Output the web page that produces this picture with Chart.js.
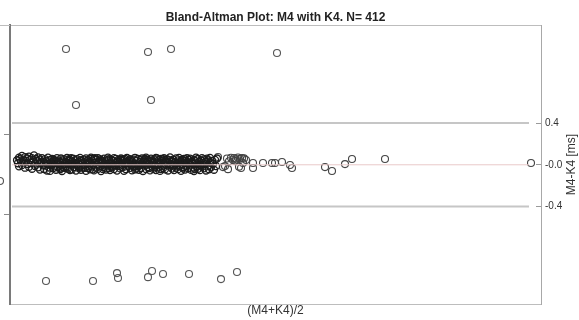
<!DOCTYPE html>
<html>
<head>
<meta charset="utf-8">
<script src="https://cdn.jsdelivr.net/npm/chart.js@4.4.1/dist/chart.umd.min.js"></script>
<style>
  html, body { margin: 0; padding: 0; background: #fff; }
  #wrap { width: 579px; height: 320px; }
</style>
</head>
<body>
<div id="wrap"><canvas id="ba" width="579" height="320"></canvas></div>
<script>
// Bland-Altman: mean of the two methods (x) vs difference (y)
const titleText = 'Bland-Altman Plot: M4 with K4. N= 412';
const xTitle = '(M4+K4)/2';
const yTitle = 'M4-K4 [ms]';

// limits of agreement and mean difference
const meanDiff = -0.003;
const upperLoA = 0.401;
const lowerLoA = -0.407;
const lineStartX = 2;
const lineEndX = 519;

const xRange = [0, 531];
const yRange = [-1.35, 1.35];
const rightTicks = [upperLoA, meanDiff, lowerLoA];
const leftTicks = [0.295, -0.48];

// outliers
const outlierMeans = [56, 138, 161, 267, 66, 141,
  36, 83, 107, 108, 138, 142, 153, 179, 211, 227];
const outlierDiffs = [1.118, 1.089, 1.118, 1.079, 0.576, 0.624,
  -1.128, -1.128, -1.051, -1.099, -1.090, -1.031, -1.060, -1.060, -1.109, -1.041];

// one point sits left of the frame
const edgeMeans = [-10];
const edgeDiffs = [-0.160];

const sparseMeans = [208, 213, 215, 217, 218, 219, 221, 223, 224, 225, 226, 228, 229, 230, 231, 232, 233, 234, 236,
  243, 243, 253, 262, 265, 272, 280, 282, 315, 322, 335, 342, 375, 521];
const sparseDiffs = [0.072, -0.025, -0.015, 0.058, -0.045, 0.031, 0.066, 0.043, 0.062, 0.033, 0.049, 0.068, -0.021, 0.055, -0.034, 0.062, 0.014, 0.059, 0.044,
  0.014, -0.034, 0.014, 0.014, 0.014, 0.024, -0.005, -0.034, -0.025, -0.063, 0.004, 0.053, 0.053, 0.014];

// the dense band
const bandMeans = [
  7,8,9,9,10,11,12,12,13,14,15,15,16,17,18,19,19,20,21,22,22,23,24,25,25,26,27,28,28,29,30,30,31,32,33,
  34,34,35,36,36,37,38,38,39,40,40,41,42,42,43,44,44,45,46,46,
  47,48,48,49,50,50,51,52,52,53,54,54,55,56,56,57,58,58,59,60,
  60,61,62,62,63,64,64,65,66,66,67,68,68,69,70,70,71,72,72,73,
  74,74,75,76,76,77,78,78,79,80,80,81,82,82,83,84,84,85,86,86,
  87,88,88,89,90,90,91,92,92,93,94,94,95,96,96,97,98,98,99,100,
  100,101,102,102,103,104,104,105,106,106,107,108,108,109,110,110,111,112,112,113,
  114,114,115,116,116,117,118,118,119,120,120,121,122,122,123,124,124,125,126,126,
  127,128,128,129,130,130,131,132,132,133,134,134,135,136,136,137,138,138,139,140,
  140,141,142,142,143,144,144,145,146,146,147,148,148,149,150,150,151,152,152,153,
  154,154,155,156,156,157,158,158,159,160,160,161,162,162,163,164,164,165,166,166,
  167,168,168,169,170,170,171,172,172,173,174,174,175,176,176,177,178,178,179,180,
  180,181,182,182,183,184,184,185,186,186,187,188,188,189,190,190,191,192,192,193,
  194,194,195,196,196,197,198,198,199,200,200,201,202,203,204,205,206,207,
  41,49,57,63,71,79,85,93,99,107,113,121,129,135,143,151,157,165,171,179,
  45,53,59,67,75,81,89,97,103,111,117,125,133,139,147,155,161,169,175,185,
  37,43,51,61,69,77,83,91,101,109,115,123,131,137,145,153,163,173,183,191
];
const bandDiffs = [
  0.041,0.012,0.066,-0.018,0.052,0.028,0.083,-0.006,0.047,0.019,0.071,-0.031,0.036,0.058,0.004,0.077,-0.022,0.044,0.015,0.062,-0.041,0.029,0.088,0.008,-0.014,0.053,0.034,0.069,-0.027,0.011,0.047,-0.049,0.024,0.061,-0.008,
  0.018,-0.044,0.052,-0.011,0.033,-0.058,0.067,0.004,-0.029,0.041,-0.062,0.022,-0.006,0.055,-0.037,0.013,0.046,-0.019,0.029,-0.051,
  0.061,-0.024,0.009,0.038,-0.046,0.017,0.058,-0.008,-0.063,0.031,0.002,0.049,-0.033,0.024,-0.015,0.063,-0.041,0.012,0.036,-0.055,
  0.044,-0.003,0.027,-0.048,0.057,0.014,-0.026,0.039,-0.059,0.006,0.051,-0.017,0.023,-0.038,0.064,0.001,-0.052,0.034,0.016,-0.029,
  0.048,-0.009,0.021,-0.061,0.059,0.007,-0.035,0.042,0.026,-0.047,0.011,0.066,-0.021,0.037,-0.004,0.053,-0.057,0.019,-0.031,0.045,
  0.003,0.061,-0.042,0.028,-0.013,0.049,-0.064,0.015,0.038,-0.024,0.056,-0.002,0.032,-0.049,0.009,0.043,-0.018,0.067,-0.036,0.022,
  -0.054,0.047,0.005,-0.028,0.036,0.062,-0.044,0.013,-0.007,0.054,-0.059,0.026,0.041,-0.016,0.008,-0.038,0.058,0.019,-0.025,0.035,
  -0.061,0.044,0.002,0.027,-0.046,0.063,-0.012,0.016,0.039,-0.033,0.051,-0.005,-0.056,0.031,0.011,-0.022,0.048,0.065,-0.039,0.006,
  0.037,-0.017,0.054,-0.051,0.024,0.001,-0.034,0.059,0.014,-0.063,0.042,-0.009,0.029,0.066,-0.044,0.018,-0.026,0.046,0.007,-0.057,
  0.034,0.057,-0.019,0.012,-0.041,0.049,0.023,-0.006,0.063,-0.053,0.031,-0.028,0.004,0.044,-0.062,0.017,0.055,-0.013,0.038,-0.036,
  0.009,0.061,-0.047,0.026,-0.004,0.052,0.014,-0.058,0.041,-0.021,0.068,0.003,-0.039,0.033,0.047,-0.011,-0.054,0.021,0.059,-0.031,
  0.016,-0.045,0.039,0.064,-0.008,0.027,-0.061,0.048,0.006,-0.024,0.055,0.013,-0.049,0.036,-0.014,0.062,0.021,-0.035,0.044,-0.002,
  0.057,-0.052,0.025,0.008,-0.029,0.046,-0.063,0.032,0.067,-0.017,0.011,-0.041,0.053,0.024,-0.006,-0.055,0.038,0.061,-0.023,0.015,
  -0.037,0.049,0.004,-0.058,0.029,0.056,-0.012,0.041,-0.046,0.019,0.064,-0.027,0.036,0.007,-0.051,0.045,-0.016,0.058,
  -0.002,0.026,-0.031,0.008,0.043,-0.019,0.061,-0.043,0.052,0.021,-0.028,0.037,-0.01,0.053,0.018,-0.045,0.029,-0.003,0.035,0.012,
  0.035,-0.027,0.05,-0.006,-0.033,0.055,0.019,-0.003,-0.021,0.046,0.024,-0.048,0.009,-0.035,0.06,0.039,-0.007,-0.019,0.052,-0.044,
  0.009,0.028,-0.037,0.062,-0.022,0.033,-0.047,0.041,-0.011,0.003,0.055,-0.018,0.047,-0.001,-0.023,0.051,0.026,-0.038,0.016,-0.009
];

const toPoints = (xs, ys) => xs.map((m, i) => ({ x: m, y: ys[i] }));

Chart.defaults.font.family = "'Liberation Sans', Arial, sans-serif";
Chart.defaults.color = '#333';

function hLine(y, color, width) {
    return {
        type: 'line',
        data: [{ x: lineStartX, y: y }, { x: lineEndX, y: y }],
        borderColor: color,
        borderWidth: width,
        pointRadius: 0,
        fill: false
    };
}

function circles(data, color, width) {
    return {
        type: 'scatter',
        data: data,
        pointRadius: 3.5,
        pointBorderWidth: width,
        borderColor: color,
        backgroundColor: 'rgba(0,0,0,0)',
        clip: false
    };
}

// rotated right-side axis title, reading bottom to top;
// also draws the edge point and the top frame stub left of the plot
const extrasPlugin = {
    id: 'extras',
    afterDatasetsDraw(chart) {
        const ctx = chart.ctx;
        const meta = chart.getDatasetMeta(6);
        const full = { left: 0, top: 0, right: chart.width, bottom: chart.height };
        meta.data.forEach(el => el.draw(ctx, full));
    },
    afterDraw(chart) {
        const ctx = chart.ctx;
        const area = chart.chartArea;
        ctx.save();
        ctx.strokeStyle = '#bdbdbd';
        ctx.lineWidth = 1;
        ctx.beginPath();
        ctx.moveTo(0, area.top + 0.5);
        ctx.lineTo(area.left, area.top + 0.5);
        ctx.stroke();
        ctx.translate(572, (area.top + area.bottom) / 2);
        ctx.rotate(-Math.PI / 2);
        ctx.font = "12px 'Liberation Sans', Arial, sans-serif";
        ctx.fillStyle = '#333';
        ctx.textAlign = 'center';
        ctx.textBaseline = 'middle';
        ctx.fillText(yTitle, 0, 0);
        ctx.restore();
    }
};

new Chart(document.getElementById('ba'), {
    type: 'scatter',
    data: {
        datasets: [
            hLine(upperLoA, '#c6c6c6', 2),
            hLine(lowerLoA, '#c6c6c6', 2),
            hLine(meanDiff, '#e9c9c9', 1),
            circles(toPoints(bandMeans, bandDiffs), '#1c1c1c', 1.3),
            circles(toPoints(sparseMeans, sparseDiffs), '#444', 1.1),
            circles(toPoints(outlierMeans, outlierDiffs), '#555', 1.1),
            circles(toPoints(edgeMeans, edgeDiffs), '#555', 1.1)
        ]
    },
    options: {
        responsive: false,
        animation: false,
        devicePixelRatio: 1,
        layout: { padding: 0 },
        plugins: {
            legend: { display: false },
            tooltip: { enabled: false },
            title: {
                display: true,
                text: titleText,
                fullSize: false,
                color: '#222',
                font: { size: 12, weight: 'bold' },
                padding: { top: 10.6, bottom: 0 }
            }
        },
        scales: {
            x: {
                type: 'linear',
                position: 'bottom',
                min: xRange[0],
                max: xRange[1],
                ticks: { display: false },
                grid: { drawOnChartArea: false, drawTicks: false },
                border: { display: true, color: '#bdbdbd', width: 1 },
                title: { display: true, text: xTitle, font: { size: 12 }, padding: { top: 0, bottom: 2 } },
                afterFit: s => { s.height = 16; }
            },
            xT: {
                type: 'linear',
                position: 'top',
                min: xRange[0],
                max: xRange[1],
                ticks: { display: false },
                grid: { drawOnChartArea: false, drawTicks: false },
                border: { display: true, color: '#bdbdbd', width: 1 },
                afterFit: s => { s.height = 0; }
            },
            y: {
                type: 'linear',
                position: 'right',
                min: yRange[0],
                max: yRange[1],
                afterBuildTicks: s => { s.ticks = rightTicks.map(v => ({ value: v })); },
                ticks: {
                    padding: 9,
                    font: { size: 10 },
                    color: '#333',
                    callback: v => Number(v).toFixed(1)
                },
                grid: { drawOnChartArea: false, drawTicks: true, tickLength: -5, tickColor: '#9a9a9a' },
                border: { display: true, color: '#a8a8a8', width: 1 },
                afterFit: s => { s.width = 38; }
            },
            yL: {
                type: 'linear',
                position: 'left',
                min: yRange[0],
                max: yRange[1],
                afterBuildTicks: s => { s.ticks = leftTicks.map(v => ({ value: v })); },
                ticks: { display: false },
                grid: { drawOnChartArea: false, drawTicks: true, tickLength: 6, tickColor: '#8a8a8a' },
                border: { display: true, color: '#7a7a7a', width: 2 },
                afterFit: s => { s.width = 10; }
            }
        }
    },
    plugins: [extrasPlugin]
});
</script>
</body>
</html>
